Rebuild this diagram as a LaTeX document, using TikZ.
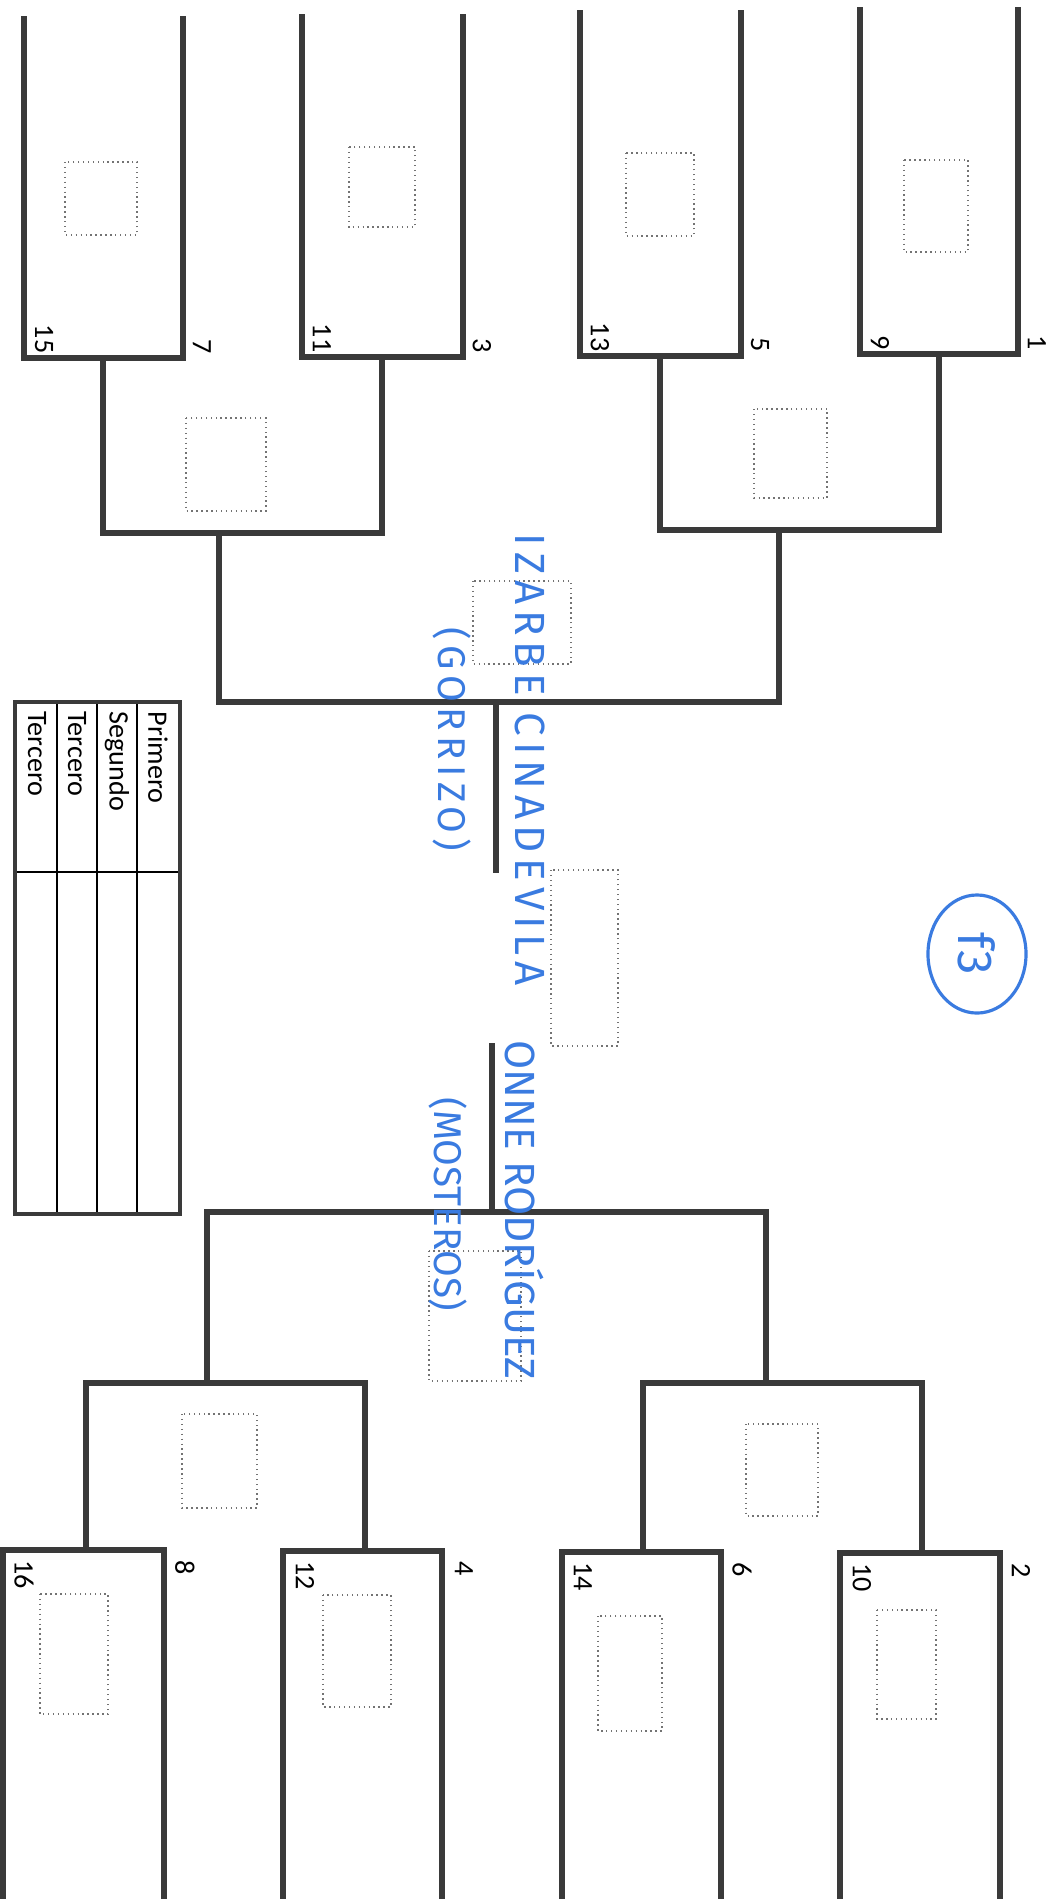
\documentclass[tikz,border=0pt]{standalone}
\usepackage{fontspec}
\setmainfont{Carlito}
\newfontfamily\handfont{Fira Sans}
\newfontfamily\handwide[LetterSpace=14]{Fira Sans}
\usetikzlibrary{shapes.geometric}
\definecolor{cink}{HTML}{3A7BE0}
\definecolor{cline}{HTML}{3A3A3A}
\tikzset{
  bracket/.style={draw=cline, line width=1.5pt},
  slot/.style={draw=black!55, densely dotted, line width=0.4pt},
  seed/.style={font=\fontsize{8}{8}\selectfont, rotate=-90, inner sep=0pt},
  hand/.style={text=cink, font=\handfont\fontsize{12}{12}\selectfont, rotate=-90, inner sep=0pt, anchor=west},
}

\begin{document}
\begin{tikzpicture}[x=0.01cm, y=-0.01cm, frame/.style={draw=cline, line width=1.4pt}, cell/.style={draw=black, line width=0.6pt}]
  \useasboundingbox (0,0) rectangle (1056,1899);
  % upper half
  \coordinate (s15) at (24,16);  \coordinate (s7) at (183,16);  \coordinate (m1) at (103,358);
  \coordinate (s11) at (302,14); \coordinate (s3) at (463,14);  \coordinate (m2) at (382,357);
  \coordinate (s13) at (580,10); \coordinate (s5) at (741,10);  \coordinate (m3) at (660,356);
  \coordinate (s9) at (860,7);   \coordinate (s1) at (1018,7);  \coordinate (m4) at (939,354);
  \coordinate (q1) at (219,533); \coordinate (q2) at (779,530);
  \coordinate (f1) at (496,702); \coordinate (w1) at (496,873);
  \draw[bracket] (s15) |- (m1) -| (s7);
  \draw[bracket] (s11) |- (m2) -| (s3);
  \draw[bracket] (s13) |- (m3) -| (s5);
  \draw[bracket] (s9) |- (m4) -| (s1);
  \draw[bracket] (m1) |- (q1) -| (m2);
  \draw[bracket] (m3) |- (q2) -| (m4);
  \draw[bracket] (q1) |- (f1) -| (q2);
  \draw[bracket] (f1) -- (w1);
  \node[seed, anchor=east] (n15) at (44,354) {15};
  \node[seed, anchor=east] (n7) at (202,354) {7};
  \node[seed, anchor=east] (n11) at (322,353) {11};
  \node[seed, anchor=east] (n3) at (482,353) {3};
  \node[seed, anchor=east] (n13) at (600,352) {13};
  \node[seed, anchor=east] (n5) at (760,352) {5};
  \node[seed, anchor=east] (n9) at (880,350) {9};
  \node[seed, anchor=east] (n1) at (1037,350) {1};
  % lower half
  \coordinate (s16) at (3,1899);   \coordinate (s8) at (164,1899); \coordinate (m5) at (86,1550);
  \coordinate (s12) at (283,1899); \coordinate (s4) at (442,1899); \coordinate (m6) at (365,1551);
  \coordinate (s14) at (562,1899); \coordinate (s6) at (721,1899); \coordinate (m7) at (643,1552);
  \coordinate (s10) at (840,1899); \coordinate (s2) at (1000,1899); \coordinate (m8) at (922,1553);
  \coordinate (q3) at (207,1383); \coordinate (q4) at (766,1383);
  \coordinate (f2) at (492,1212); \coordinate (w2) at (492,1043);
  \draw[bracket] (s16) |- (m5) -| (s8);
  \draw[bracket] (s12) |- (m6) -| (s4);
  \draw[bracket] (s14) |- (m7) -| (s6);
  \draw[bracket] (s10) |- (m8) -| (s2);
  \draw[bracket] (m5) |- (q3) -| (m6);
  \draw[bracket] (m7) |- (q4) -| (m8);
  \draw[bracket] (q3) |- (f2) -| (q4);
  \draw[bracket] (w2) -- (f2);
  \node[seed, anchor=west] (n16) at (24,1560) {16};
  \node[seed, anchor=west] (n8) at (185,1560) {8};
  \node[seed, anchor=west] (n12) at (305,1561) {12};
  \node[seed, anchor=west] (n4) at (464,1561) {4};
  \node[seed, anchor=west] (n14) at (583,1562) {14};
  \node[seed, anchor=west] (n6) at (742,1562) {6};
  \node[seed, anchor=west] (n10) at (862,1563) {10};
  \node[seed, anchor=west] (n2) at (1021,1563) {2};
  % winner slots
  \draw[slot] (65,162) rectangle (137,235);   \draw[slot] (349,147) rectangle (415,227);
  \draw[slot] (626,153) rectangle (694,236);  \draw[slot] (904,160) rectangle (968,252);
  \draw[slot] (186,418) rectangle (266,511);  \draw[slot] (754,409) rectangle (827,498);
  \draw[slot] (473,581) rectangle (571,664);  \draw[slot] (551,870) rectangle (618,1046);
  \draw[slot] (429,1251) rectangle (521,1381);
  \draw[slot] (182,1414) rectangle (257,1508); \draw[slot] (746,1424) rectangle (818,1516);
  \draw[slot] (40,1594) rectangle (108,1714);  \draw[slot] (323,1595) rectangle (391,1707);
  \draw[slot] (598,1616) rectangle (662,1731); \draw[slot] (877,1610) rectangle (936,1719);
  % podium table
  \draw[cell] (57,702) -- (57,1214) (97,702) -- (97,1214) (137,702) -- (137,1214);
  \draw[cell] (15,872) -- (180,872);
  \draw[frame] (15,702) rectangle (180,1214);
  \node[seed, anchor=west] (first) at (158,711) {Primero};
  \node[seed, anchor=west] (second) at (117,711) {Segundo};
  \node[seed, anchor=west] (third) at (77,711) {Tercero};
  \node[seed, anchor=west] (thirdb) at (37,711) {Tercero};
  % handwriting
  \node[hand, font=\handwide\fontsize{12}{12}\selectfont] (name1) at (530,533) {IZARBE CINADEVILA};
  \node[hand, font=\handwide\fontsize{11}{11}\selectfont] (club1) at (452,627) {(GORRIZO)};
  \node[hand] (name2) at (524,1040) {ONNE RODRÍGUEZ};
  \node[hand, font=\handfont\fontsize{11}{11}\selectfont] (club2) at (448,1097) {(MOSTEROS)};
  \node[draw=cink, line width=0.9pt, ellipse, rotate=-90, text=cink, font=\handfont\fontsize{14}{14}\selectfont, minimum width=1.18cm, minimum height=0.98cm, inner sep=0pt] (mark) at (977,954) {f3};
\end{tikzpicture}
\end{document}
